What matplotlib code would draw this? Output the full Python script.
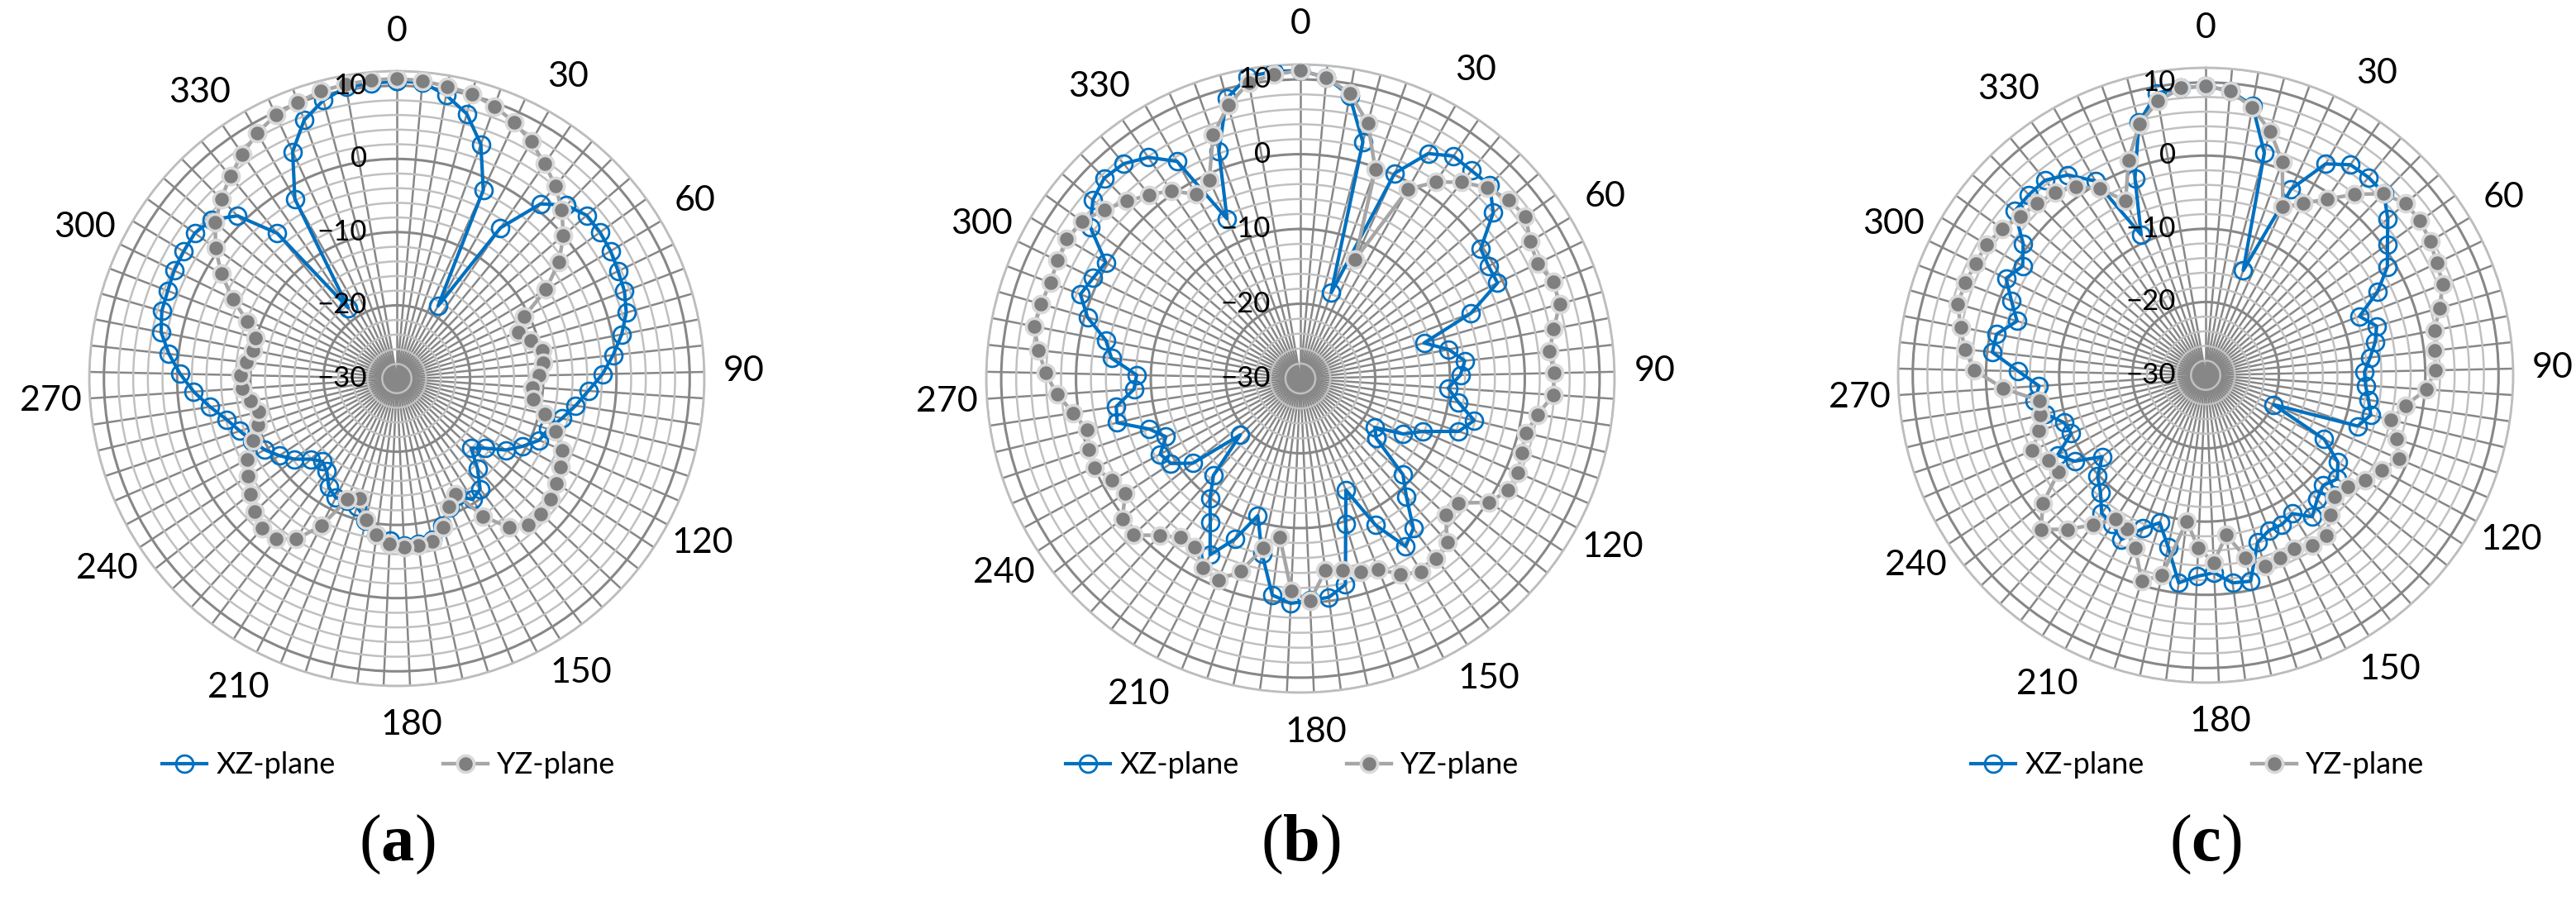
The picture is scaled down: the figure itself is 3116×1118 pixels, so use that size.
import numpy as np
import matplotlib.pyplot as plt
from matplotlib.ticker import MultipleLocator
from matplotlib.transforms import offset_copy

plt.rcParams['font.family'] = ['Lato', 'DejaVu Sans']
plt.rcParams['mathtext.fontset'] = 'custom'
plt.rcParams['mathtext.rm'] = 'Liberation Serif'
plt.rcParams['mathtext.bf'] = 'Liberation Serif:bold'

# categories 0..360 step 5 (73 categories, Excel radar)
angles_deg = list(range(0, 361, 5))
r_ticks = [-30, -20, -10, 0, 10]
angle_labels = list(range(0, 360, 30))
series_names = ['XZ-plane', 'YZ-plane']
panel_tags = ['a', 'b', 'c']

xz_a = [10.6, 10.6, 9.3, 7.4, 4.0, -1.7, -18.6, -5.0, 0.9, 3.1, 4.2, 4.2, 4.0, 3.6, 3.3, 2.6, 1.3,
        -0.3, -1.9, -3.8, -5.3, -6.8, -8.2, -8.8, -10.5, -12.2, -14.6, -16.1, -13.5, -11.1, -10.5,
        -12.0, -11.0, -9.0, -7.5, -7.2, -7.2, -7.8, -8.5, -10.1, -11.7, -12.0, -11.7, -12.5, -14.1,
        -14.8, -13.9, -12.2, -10.8, -9.5, -8.5, -7.4, -6.1, -4.2, -2.2, -0.4, 1.3, 2.8, 3.4, 3.5,
        3.8, 3.9, 4.0, 3.3, 1.1, -4.3, -18.3, -1.8, 4.1, 7.5, 9.3, 10.4, 10.5]
yz_a = [11.0, 10.8, 10.5, 10.2, 9.5, 8.5, 7.2, 5.6, 4.1, 2.2, 0.0, -2.7, -6.3, -10.7, -12.2, -11.0,
        -9.8, -9.9, -10.6, -11.5, -11.2, -9.2, -7.2, -5.4, -4.6, -3.9, -3.3, -3.0, -3.1, -4.5, -7.8,
        -12.3, -11.1, -8.7, -7.2, -7.0, -6.9, -7.4, -8.5, -10.2, -12.8, -12.2, -7.4, -4.1, -2.6,
        -2.5, -3.4, -4.5, -5.7, -6.8, -8.6, -10.0, -10.6, -9.8, -8.8, -8.7, -9.3, -10.0, -9.9, -8.1,
        -5.1, -2.1, 0.5, 2.7, 4.3, 5.8, 7.2, 8.6, 9.6, 10.1, 10.6, 10.8, 10.9]

xz_b = [11.2, 10.4, 8.4, 2.7, -17.8, 0.2, 4.6, 6.1, 6.0, 6.2, 4.0, -0.3, -0.7, -0.7, -5.6, -12.8,
        -9.8, -7.9, -8.6, -10.2, -8.6, -6.1, -7.7, -12.2, -14.4, -18.1, -17.1, -11.2, -8.8, -4.9,
        -3.5, -8.0, -13.9, -9.6, -1.8, -0.5, -0.3, 0.1, -0.8, -6.0, -10.8, -6.8, -3.5, -7.3, -9.9,
        -12.6, -19.0, -11.7, -9.3, -8.7, -10.4, -8.7, -4.8, -5.1, -7.7, -8.1, -4.6, -3.5, -0.4, 1.5,
        0.8, 0.3, 4.6, 6.6, 7.5, 7.2, 5.9, 3.4, -6.5, 2.3, 8.7, 11.0, 11.2]
yz_b = [11.2, 10.4, 8.7, 5.3, -0.3, -12.5, -0.9, 1.9, 4.0, 5.7, 6.7, 7.1, 5.8, 5.2, 6.2, 6.1, 4.5,
        3.5, 3.9, 3.9, 2.1, 1.0, 1.2, 1.7, 1.5, 0.2, -3.1, -3.4, -0.6, 0.2, 0.5, -0.6, -2.4, -2.9,
        -3.7, -4.1, -0.2, -1.6, -8.6, -6.8, -3.0, -0.9, -1.5, -3.4, -3.4, -1.8, 0.6, 0.3, -2.0,
        -1.4, 0.0, -0.2, -0.7, 0.7, 2.6, 4.1, 5.2, 6.3, 6.1, 5.8, 6.1, 6.4, 6.0, 4.6, 3.2, 1.8,
        0.5, -1.7, -0.8, 4.6, 7.8, 10.2, 10.8]

xz_c = [9.5, 9.0, 7.4, 1.4, -14.8, -2.0, 3.2, 4.9, 5.0, 4.8, 2.8, 0.6, -1.1, -3.9, -7.5, -5.7,
        -6.4, -7.4, -8.3, -8.1, -7.5, -6.8, -8.1, -19.9, -11.6, -8.4, -7.1, -8.0, -7.2, -5.8, -7.7,
        -7.1, -7.1, -6.1, -1.2, -1.4, -3.0, -2.5, -1.4, -6.0, -8.9, -7.4, -4.8, -6.0, -6.4, -8.5,
        -9.8, -12.0, -8.6, -7.0, -10.0, -9.6, -7.5, -6.4, -7.2, -4.4, -0.7, -0.9, -3.2, -1.6, 0.3,
        -0.9, 0.7, 4.4, 4.5, 4.5, 3.2, 0.5, -8.9, -1.4, 5.7, 9.1, 9.4]
yz_c = [9.5, 9.0, 7.1, 4.5, 1.0, -4.7, -3.0, -0.8, 2.0, 4.7, 6.0, 6.1, 5.7, 5.1, 4.7, 3.2, 1.9,
        1.5, 1.4, 0.2, -2.4, -4.0, -2.5, -1.2, -2.7, -3.9, -5.3, -5.8, -4.4, -2.6, -2.6, -3.4,
        -3.0, -2.7, -4.5, -8.0, -4.4, -6.4, -9.9, -2.0, -0.6, -4.5, -6.4, -6.8, -4.4, -1.7, 0.8,
        -1.7, -6.0, -5.6, -4.2, -6.0, -6.8, -7.0, -2.3, 1.6, 3.1, 4.1, 5.2, 5.2, 4.9, 4.9, 4.2,
        3.3, 2.9, 2.3, 1.3, -0.7, -3.8, 1.2, 5.5, 8.0, 9.4]

W, H = 3116, 1118
fig = plt.figure(figsize=(W / 100, H / 100), dpi=100)

# panel centre (px) and radius (px)
layout = [(480, 458, 372), (1573, 458, 380), (2668, 454, 372)]
data = [(xz_a, yz_a), (xz_b, yz_b), (xz_c, yz_c)]

# 73 categories share the full circle
theta = np.deg2rad(np.array(angles_deg) * 72 / 73)
theta_closed = np.append(theta, 2 * np.pi)

for (cx, cy, R), (xz, yz), tag in zip(layout, data, panel_tags):
    ax = fig.add_axes([(cx - R) / W, 1 - (cy + R) / H, 2 * R / W, 2 * R / H], projection='polar')
    ax.set_theta_zero_location('N')
    ax.set_theta_direction(-1)
    ax.set_ylim(-30, 12)
    ax.set_xticks(theta[:-1])
    ax.set_xticklabels([])
    ax.set_yticks([-20, -10, 0, 10])
    ax.set_yticklabels([])
    ax.yaxis.set_minor_locator(MultipleLocator(2))
    ax.tick_params(axis='both', which='both', length=0)
    ax.grid(which='major', axis='y', color='#878787', lw=2.2)
    ax.grid(which='minor', axis='y', color='#c0c0c0', lw=1.8)
    ax.grid(which='major', axis='x', color='#878787', lw=1.8)
    ax.spines['polar'].set_color('#bdbdbd')
    ax.spines['polar'].set_linewidth(2.0)
    ax.set_axisbelow(True)

    ax.plot(theta_closed, xz + xz[:1], color='#0070C0', lw=3.0, marker='o', ms=15,
            mfc='none', mec='#0070C0', mew=2.0, label=series_names[0], zorder=3)
    ax.plot(theta_closed, yz + yz[:1], color='#a6a6a6', lw=3.2, marker='o', ms=14.5,
            mfc='#7f7f7f', mec='#d9d9d9', mew=2.6, label=series_names[1], zorder=4)

    # value axis labels, left of the 0 deg spoke
    trans = offset_copy(ax.transData, fig=fig, x=-36, y=0, units='dots')
    for v in r_ticks:
        ax.text(0, v, str(v).replace('-', '\u2212'), transform=trans, ha='right', va='center',
                fontsize=25, zorder=5)

    # category labels
    for d in angle_labels:
        ax.text(np.deg2rad(d * 72 / 73), 17.4, str(d), ha='center', va='center',
                fontsize=31, clip_on=False)

    ax.legend(loc='center', bbox_to_anchor=((cx - 10) / W, 1 - 926 / H),
              bbox_transform=fig.transFigure, ncol=2, frameon=False, fontsize=26,
              handlelength=1.5, handletextpad=0.3, columnspacing=3.6, numpoints=1)

    fig.text(cx / W, 1 - 1022 / H, r'$(\mathbf{' + tag + r'})$', ha='center', va='center',
             fontsize=58)

fig.savefig('out.png', dpi=100)
